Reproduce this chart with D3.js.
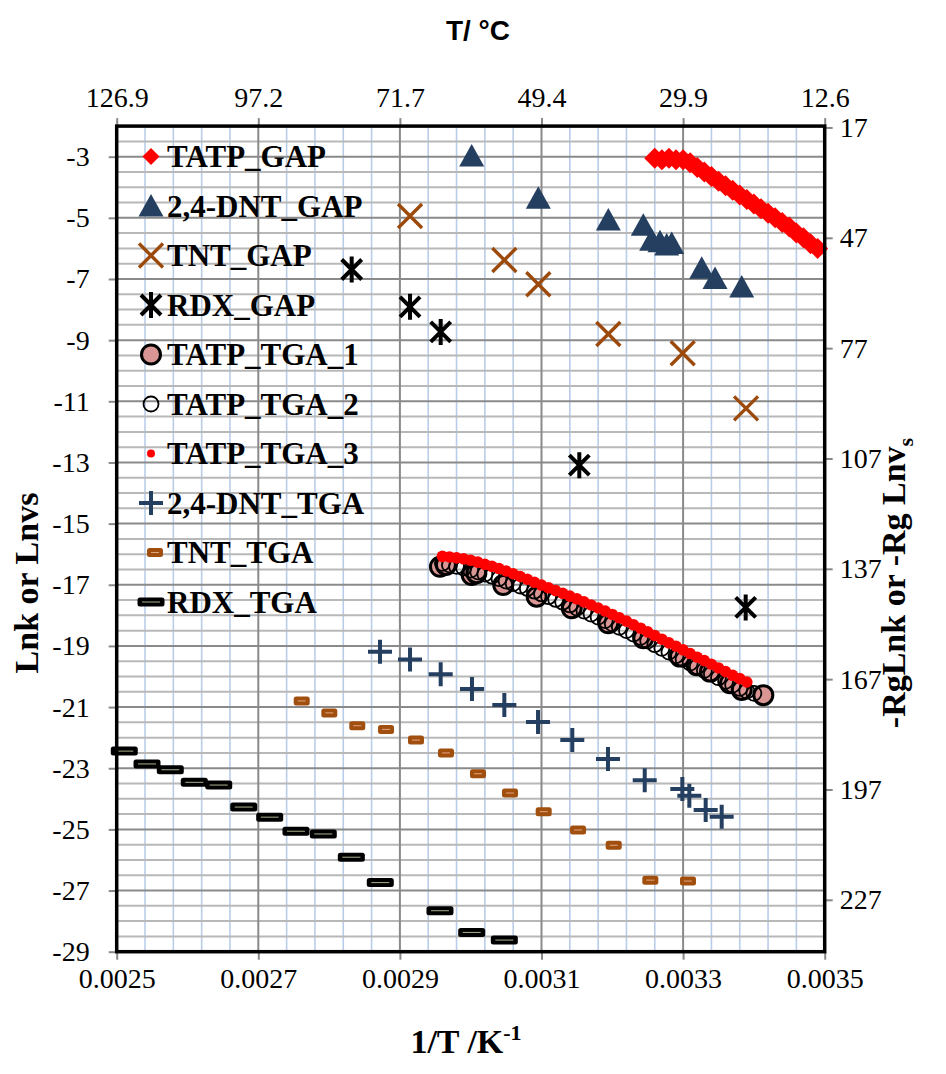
<!DOCTYPE html>
<html>
<head>
<meta charset="utf-8">
<script src="https://cdn.jsdelivr.net/npm/d3@7"></script>
<style>
  body { margin: 0; background: #fff; }
  text { font-family: "Liberation Serif", "Times New Roman", serif; }
</style>
</head>
<body>
<svg id="chart" width="946" height="1074"></svg>
<script>
// axis ticks / labels
const xTicks = [0.0025, 0.0027, 0.0029, 0.0031, 0.0033, 0.0035];
const topLabels = ["126.9", "97.2", "71.7", "49.4", "29.9", "12.6"];
const leftTicks = [-29, -27, -25, -23, -21, -19, -17, -15, -13, -11, -9, -7, -5, -3];
const rightTicks = [17, 47, 77, 107, 137, 167, 197, 227];
const Rg = 8.314;

// series, [1/T, ln]
const tatpGap = [[0.00326,-3.05],[0.00327,-3.1],[0.00328,-3.05],[0.00329,-3.1],[0.00330,-3.1],[0.00331,-3.2],
  [0.00332,-3.35],[0.00333,-3.5],[0.00334,-3.65],[0.00335,-3.8],[0.00336,-3.95],[0.00337,-4.1],[0.00338,-4.25],
  [0.00339,-4.4],[0.00340,-4.55],[0.00341,-4.7],[0.00342,-4.85],[0.00343,-5.0],[0.00344,-5.15],[0.00345,-5.3],
  [0.00346,-5.5],[0.00347,-5.65],[0.00348,-5.85],[0.00349,-6.0]];
const dntGap = [[0.0030014,-2.98],[0.0030955,-4.36],[0.0031944,-5.07],[0.0032438,-5.24],[0.0032556,-5.73],
  [0.0032674,-5.78],[0.0032768,-5.89],[0.0032839,-5.84],[0.0033263,-6.65],[0.0033451,-6.98],[0.0033828,-7.26]];
const tntGap = [[0.0029143,-4.94],[0.0030475,-6.38],[0.0030955,-7.17],[0.0031944,-8.80],[0.0032994,-9.43],[0.0033889,-11.23]];
const rdxGap = [[0.0028319,-6.69],[0.0029143,-7.91],[0.0029576,-8.73],[0.0031534,-13.09],[0.0033884,-17.74]];
const tatpTga1 = [[0.0029566,-16.41],[0.002965,-16.35],[0.0030014,-16.68],[0.003008,-16.62],[0.0030460,-17.01],
  [0.0030932,-17.39],[0.0031427,-17.77],[0.0031944,-18.26],[0.0032438,-18.75],[0.0032956,-19.35],[0.0033192,-19.63],
  [0.0033380,-19.84],[0.0033662,-20.22],[0.0033828,-20.44],[0.0034133,-20.61]];
const tatpTga2 = [[0.00296,-16.30],[0.00297,-16.35],[0.00298,-16.40],[0.00299,-16.45],[0.00300,-16.52],[0.00301,-16.58],
  [0.00302,-16.65],[0.00303,-16.72],[0.00304,-16.80],[0.00305,-16.88],[0.00306,-16.96],[0.00307,-17.04],[0.00308,-17.12],
  [0.00309,-17.21],[0.00310,-17.30],[0.00311,-17.39],[0.00312,-17.48],[0.00313,-17.57],[0.00314,-17.66],[0.00315,-17.76],
  [0.00316,-17.86],[0.00317,-17.96],[0.00318,-18.06],[0.00319,-18.17],[0.00320,-18.28],[0.00321,-18.39],[0.00322,-18.50],
  [0.00323,-18.61],[0.00324,-18.72],[0.00325,-18.84],[0.00326,-18.96],[0.00327,-19.08],[0.00328,-19.20],[0.00329,-19.32],
  [0.00330,-19.44],[0.00331,-19.56],[0.00332,-19.68],[0.00333,-19.80],[0.00334,-19.92],[0.00335,-20.04],[0.00336,-20.16],
  [0.00337,-20.28],[0.00338,-20.39],[0.00339,-20.48],[0.00340,-20.55]];
const tatpTga3 = [[0.00296,-16.07],[0.00297,-16.09],[0.00298,-16.12],[0.00299,-16.15],[0.00300,-16.20],[0.00301,-16.26],
  [0.00302,-16.33],[0.00303,-16.40],[0.00304,-16.47],[0.00305,-16.55],[0.00306,-16.64],[0.00307,-16.73],[0.00308,-16.82],
  [0.00309,-16.92],[0.00310,-17.01],[0.00311,-17.10],[0.00312,-17.19],[0.00313,-17.28],[0.00314,-17.37],[0.00315,-17.46],
  [0.00316,-17.56],[0.00317,-17.66],[0.00318,-17.76],[0.00319,-17.86],[0.00320,-17.97],[0.00321,-18.08],[0.00322,-18.19],
  [0.00323,-18.31],[0.00324,-18.42],[0.00325,-18.54],[0.00326,-18.66],[0.00327,-18.78],[0.00328,-18.90],[0.00329,-19.01],
  [0.00330,-19.13],[0.00331,-19.25],[0.00332,-19.37],[0.00333,-19.48],[0.00334,-19.60],[0.00335,-19.72],[0.00336,-19.84],
  [0.00337,-19.96],[0.00338,-20.07],[0.00339,-20.18]];
const dntTga = [[0.0028719,-19.19],[0.0029143,-19.44],[0.0029576,-19.93],[0.0030018,-20.41],[0.0030475,-20.93],
  [0.0030951,-21.49],[0.0031435,-22.08],[0.0031939,-22.70],[0.0032458,-23.39],[0.0032989,-23.68],[0.0033088,-23.90],
  [0.0033319,-24.37],[0.0033545,-24.59]];
const tntTga = [[0.0027613,-20.80],[0.0028003,-21.19],[0.0028398,-21.61],[0.0028804,-21.73],[0.0029227,-22.08],
  [0.0029651,-22.50],[0.0030103,-23.18],[0.0030555,-23.81],[0.0031031,-24.42],[0.0031516,-25.02],[0.0032020,-25.52],
  [0.0032537,-26.66],[0.0033069,-26.69]];
const rdxTga = [[0.0025107,-22.44],[0.0025428,-22.86],[0.0025757,-23.05],[0.0026096,-23.46],[0.0026441,-23.55],
  [0.0026794,-24.27],[0.0027161,-24.60],[0.0027532,-25.06],[0.0027918,-25.15],[0.0028314,-25.91],[0.0028723,-26.74],
  [0.0029566,-27.66],[0.0030014,-28.37],[0.0030475,-28.62]];

const series = [
  {name: "TATP_GAP", data: tatpGap, mk: "diamond"},
  {name: "2,4-DNT_GAP", data: dntGap, mk: "triangle"},
  {name: "TNT_GAP", data: tntGap, mk: "x"},
  {name: "RDX_GAP", data: rdxGap, mk: "star"},
  {name: "TATP_TGA_1", data: tatpTga1, mk: "circleFill"},
  {name: "TATP_TGA_2", data: tatpTga2, mk: "circleOpen"},
  {name: "TATP_TGA_3", data: tatpTga3, mk: "dot"},
  {name: "2,4-DNT_TGA", data: dntTga, mk: "plus"},
  {name: "TNT_TGA", data: tntTga, mk: "dashBrown"},
  {name: "RDX_TGA", data: rdxTga, mk: "dashBlack"}
];

const svg = d3.select("#chart");
const L = 116.7, R = 824.7, T = 126.1, B = 951.7;
const x = d3.scaleLinear().domain([0.0025, 0.0035]).range([L, R]);
const y = d3.scaleLinear().domain([-29, -2]).range([B, T]);
const yR = d3.scaleLinear().domain([29 * Rg, 2 * Rg]).range([B, T]);

// grid
const grid = svg.append("g");
const minorX = d3.range(0, 26).filter(i => i % 5 != 0).map(i => 0.0025 + i * 0.00004);
const minorY = d3.range(0, 55).filter(i => i % 4 != 0).map(i => -29 + i * 0.5);
grid.selectAll(".vmin").data(minorX).enter().append("line")
  .attr("x1", d => x(d)).attr("x2", d => x(d)).attr("y1", T).attr("y2", B)
  .attr("stroke", "#b9cde8").attr("stroke-width", 1.6);
grid.selectAll(".hmin").data(minorY).enter().append("line")
  .attr("x1", L).attr("x2", R).attr("y1", d => y(d)).attr("y2", d => y(d))
  .attr("stroke", "#b8b8b8").attr("stroke-width", 2);
grid.selectAll(".vmaj").data(xTicks).enter().append("line")
  .attr("x1", d => x(d)).attr("x2", d => x(d)).attr("y1", T).attr("y2", B)
  .attr("stroke", "#8a8a8a").attr("stroke-width", 2);
grid.selectAll(".hmaj").data(d3.range(-29, -1, 2)).enter().append("line")
  .attr("x1", L).attr("x2", R).attr("y1", d => y(d)).attr("y2", d => y(d))
  .attr("stroke", "#8a8a8a").attr("stroke-width", 2);

// axes
function styleAxis(g) {
  g.select(".domain").remove();
  g.selectAll(".tick line").attr("stroke", "#888").attr("stroke-width", 2);
  g.selectAll(".tick text").attr("font-family", "Liberation Serif, serif").attr("font-size", 28).attr("fill", "#000");
}
svg.append("g").attr("transform", `translate(${L},0)`)
  .call(d3.axisLeft(y).tickValues(leftTicks).tickFormat(d => String(d)).tickSize(8).tickPadding(19)).call(styleAxis);
svg.append("g").attr("transform", `translate(${R},0)`)
  .call(d3.axisRight(yR).tickValues(rightTicks).tickFormat(d => String(d)).tickSize(8).tickPadding(7)).call(styleAxis);
svg.append("g").attr("transform", `translate(0,${B})`)
  .call(d3.axisBottom(x).tickValues(xTicks).tickFormat(d3.format(".4f")).tickSize(8).tickPadding(8)).call(styleAxis);
svg.append("g").attr("transform", `translate(0,${T})`)
  .call(d3.axisTop(x).tickValues(xTicks).tickFormat((d, i) => topLabels[i]).tickSize(8).tickPadding(11)).call(styleAxis);

// markers
function marker(g, type, inLegend) {
  if (type == "diamond") g.append("path").attr("d", inLegend ? "M0,-8.5L8.5,0L0,8.5L-8.5,0Z" : "M0,-10.5L10.5,0L0,10.5L-10.5,0Z").attr("fill", "#ff0000");
  else if (type == "triangle") g.append("path").attr("d", "M0,-12L12.5,10.5L-12.5,10.5Z").attr("fill", "#243f60");
  else if (type == "x") g.append("path").attr("d", "M-12,-12L12,12M-12,12L12,-12")
    .attr("stroke", "#9c4a0c").attr("stroke-width", 3.4).attr("fill", "none");
  else if (type == "star") g.append("path").attr("d", "M-10,-10L10,10M-10,10L10,-10M0,-13L0,13")
    .attr("stroke", "#000").attr("stroke-width", 4).attr("fill", "none");
  else if (type == "circleFill") g.append("circle").attr("r", 9.5).attr("fill", "#d99694")
    .attr("stroke", "#000").attr("stroke-width", 3);
  else if (type == "circleOpen") g.append("circle").attr("r", 7.5).attr("fill", "none")
    .attr("stroke", "#000").attr("stroke-width", 1.8);
  else if (type == "dot") g.append("circle").attr("r", inLegend ? 4 : 5.8).attr("fill", "#ff0000");
  else if (type == "plus") g.append("path").attr("d", "M-12,0L12,0M0,-12L0,12")
    .attr("stroke", "#243f60").attr("stroke-width", 4).attr("fill", "none");
  else if (type == "dashBrown") {
    g.append("rect").attr("x", -8).attr("y", -4.5).attr("width", 16).attr("height", 9).attr("rx", 2.5).attr("fill", "#a14f0e");
    g.append("line").attr("x1", -4).attr("x2", 4).attr("stroke", "#e3a57c").attr("stroke-width", 1);
  } else if (type == "dashBlack") {
    g.append("rect").attr("x", -13.5).attr("y", -4.5).attr("width", 27).attr("height", 9).attr("rx", 2.5).attr("fill", "#000");
    g.append("line").attr("x1", -9).attr("x2", 9).attr("stroke", "#a9b38c").attr("stroke-width", 1);
  }
}

const plot = svg.append("g");
series.forEach(s => {
  plot.append("g").selectAll("g").data(s.data).enter().append("g")
    .attr("transform", d => `translate(${x(d[0])},${y(d[1])})`)
    .each(function() { marker(d3.select(this), s.mk, false); });
});

// frame
svg.append("rect").attr("x", L).attr("y", T).attr("width", R - L).attr("height", B - T)
  .attr("fill", "none").attr("stroke", "#000").attr("stroke-width", 3.5);

// legend
const legend = svg.append("g");
series.forEach((s, i) => {
  const row = legend.append("g").attr("transform", `translate(0,${156.5 + i * 49.5})`);
  marker(row.append("g").attr("transform", `translate(${s.mk == "dashBrown" ? 155 : 151},0)`), s.mk, true);
  row.append("text").attr("x", 167).attr("dy", "0.34em").attr("font-size", 31).attr("font-weight", "bold").text(s.name);
});

// titles
svg.append("text").attr("x", 478).attr("y", 40).attr("text-anchor", "middle")
  .style("font-family", "Liberation Sans, Arial, sans-serif").attr("font-size", 28).attr("font-weight", "bold").text("T/ °C");
const bt = svg.append("text").attr("x", 466).attr("y", 1053).attr("text-anchor", "middle")
  .attr("font-size", 34).attr("font-weight", "bold");
bt.append("tspan").text("1/T /K");
bt.append("tspan").attr("dy", -13).attr("font-size", 22).text("-1");
svg.append("text").attr("transform", "translate(38,583) rotate(-90)").attr("text-anchor", "middle")
  .attr("font-size", 34).attr("font-weight", "bold").text("Lnk or Lnvs");
const rt = svg.append("text").attr("transform", "translate(905,583) rotate(-90)").attr("text-anchor", "middle")
  .attr("font-size", 34).attr("font-weight", "bold");
rt.append("tspan").text("-RgLnk or -Rg Lnv");
rt.append("tspan").attr("dy", 8).attr("font-size", 22).text("s");
</script>
</body>
</html>
